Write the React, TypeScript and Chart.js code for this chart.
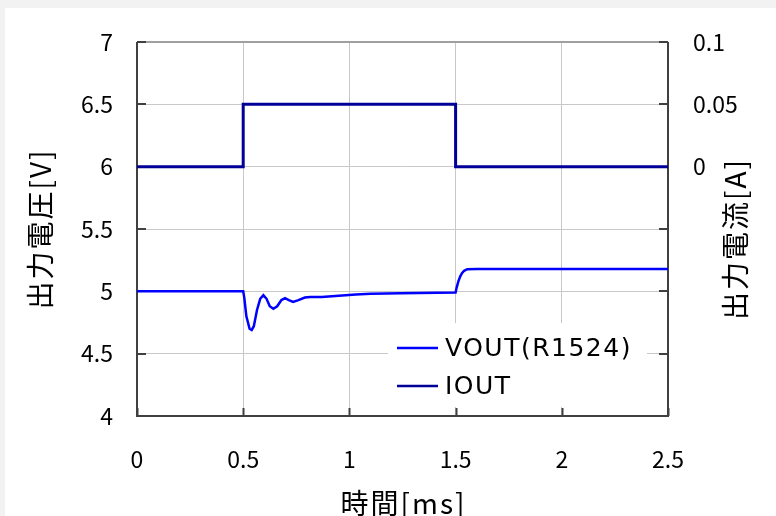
import React, { useEffect, useRef } from "react";
import { Chart, registerables } from "chart.js";

Chart.register(...registerables);

// ---- data ----
const timeV = [0, 0.5, 0.505, 0.515, 0.53, 0.54, 0.55, 0.565, 0.58, 0.595, 0.61, 0.625, 0.642, 0.66, 0.68, 0.697, 0.715, 0.735, 0.76, 0.79, 0.815, 0.87, 0.95, 1.03, 1.1, 1.24, 1.5, 1.505, 1.513, 1.522, 1.53, 1.54, 1.555, 1.6, 2.5];
const vout = [5.0, 5.0, 4.95, 4.8, 4.7, 4.69, 4.72, 4.85, 4.94, 4.97, 4.94, 4.88, 4.86, 4.88, 4.93, 4.945, 4.93, 4.915, 4.93, 4.95, 4.955, 4.955, 4.965, 4.975, 4.98, 4.985, 4.99, 5.03, 5.08, 5.12, 5.145, 5.165, 5.178, 5.18, 5.18];
const timeI = [0, 0.5, 0.5, 1.5, 1.5, 2.5];
const iout = [0, 0, 0.05, 0.05, 0, 0];

const xTicks = [0, 0.5, 1, 1.5, 2, 2.5];
const leftTicks = [4, 4.5, 5, 5.5, 6, 6.5, 7];
const rightTickValues = [-0.2, -0.15, -0.1, -0.05, 0, 0.05, 0.1];
const rightTickLabels = ["", "", "", "", "0", "0.05", "0.1"];

const seriesNames = ["VOUT(R1524)", "IOUT"];
const xTitle = "時間[ms]";
const leftTitle = "出力電圧[V]";
const rightTitle = "出力電流[A]";

const FONT = "'Noto Sans CJK JP', 'Noto Sans', sans-serif";

const framePlugin = {
  id: "frame",
  beforeDraw(chart: any) {
    const { ctx, width, height } = chart;
    ctx.save();
    ctx.fillStyle = "#f2f2f2";
    ctx.fillRect(0, 0, width, height);
    ctx.fillStyle = "#ffffff";
    ctx.fillRect(5, 8, width - 5, height - 8);
    ctx.restore();
  },
  beforeDatasetsDraw(chart: any) {
    const { ctx, chartArea: a, scales } = chart;
    ctx.save();
    ctx.strokeStyle = "#a0a0a0";
    ctx.lineWidth = 2;
    ctx.beginPath();
    ctx.moveTo(a.left, a.top);
    ctx.lineTo(a.right, a.top);
    ctx.stroke();
    ctx.strokeStyle = "#404040";
    ctx.lineWidth = 2;
    ctx.beginPath();
    ctx.moveTo(a.left, a.top);
    ctx.lineTo(a.left, a.bottom);
    ctx.lineTo(a.right, a.bottom);
    ctx.lineTo(a.right, a.top);
    ctx.stroke();
    ctx.beginPath();
    xTicks.forEach((v) => {
      const px = Math.round(scales.x.getPixelForValue(v)) + 0.5;
      ctx.moveTo(px, a.bottom);
      ctx.lineTo(px, a.bottom - 8);
    });
    leftTicks.forEach((v) => {
      const py = Math.round(scales.y.getPixelForValue(v));
      ctx.moveTo(a.left, py);
      ctx.lineTo(a.left + 9, py);
    });
    rightTickValues.forEach((v) => {
      const py = Math.round(scales.y1.getPixelForValue(v));
      ctx.moveTo(a.right, py);
      ctx.lineTo(a.right - 9, py);
    });
    ctx.stroke();
    ctx.restore();
  },
  afterDatasetsDraw(chart: any) {
    const { ctx, chartArea: a } = chart;
    ctx.save();
    // legend
    const bx = a.left + 251;
    const by = a.top + 281;
    ctx.fillStyle = "#ffffff";
    ctx.fillRect(bx, by, 259, 84);
    ctx.font = `25px 'DejaVu Sans', sans-serif`;
    (ctx as any).letterSpacing = "1.5px";
    ctx.textBaseline = "middle";
    ctx.textAlign = "left";
    chart.data.datasets.forEach((ds: any, i: number) => {
      const y = by + 25 + i * 38;
      ctx.strokeStyle = ds.borderColor;
      ctx.lineWidth = 2.5;
      ctx.beginPath();
      ctx.moveTo(bx + 9, y);
      ctx.lineTo(bx + 50, y);
      ctx.stroke();
      ctx.fillStyle = "#000";
      ctx.fillText(ds.label, bx + 57, y + 1);
    });
    // titles
    ctx.font = `28px ${FONT}`;
    (ctx as any).letterSpacing = "2px";
    ctx.textAlign = "center";
    ctx.textBaseline = "middle";
    ctx.fillStyle = "#000";
    ctx.fillText(xTitle, (a.left + a.right) / 2 + 1, 503);
    ctx.save();
    ctx.translate(40, 229);
    ctx.rotate(-Math.PI / 2);
    ctx.fillText(leftTitle, 0, 0);
    ctx.restore();
    ctx.save();
    ctx.translate(735, 239);
    ctx.rotate(-Math.PI / 2);
    ctx.fillText(rightTitle, 0, 0);
    ctx.restore();
    ctx.restore();
  },
};

export default function App() {
  const ref = useRef<HTMLCanvasElement | null>(null);
  useEffect(() => {
    if (!ref.current) return;
    const chart = new Chart(ref.current, {
      type: "line",
      data: {
        datasets: [
          {
            label: seriesNames[0],
            data: timeV.map((t, i) => ({ x: t, y: vout[i] })),
            borderColor: "#0000ff",
            borderWidth: 2.5,
            pointRadius: 0,
            tension: 0,
            yAxisID: "y",
          },
          {
            label: seriesNames[1],
            data: timeI.map((t, i) => ({ x: t, y: iout[i] })),
            borderColor: "#000099",
            borderWidth: 3,
            pointRadius: 0,
            tension: 0,
            yAxisID: "y1",
          },
        ],
      },
      options: {
        responsive: false,
        animation: false,
        layout: { padding: { top: 42, left: 0, right: 0, bottom: 0 } },
        plugins: { legend: { display: false }, tooltip: { enabled: false } },
        scales: {
          x: {
            type: "linear",
            min: 0,
            max: 2.5,
            afterBuildTicks: (s: any) => {
              s.ticks = xTicks.map((v) => ({ value: v }));
            },
            afterFit: (s: any) => {
              s.height = 100;
            },
            ticks: {
              color: "#000",
              font: { family: FONT, size: 23 },
              padding: 29,
              maxRotation: 0,
              callback: (v: any) => String(v),
            },
            grid: { color: "#c8c8c8", lineWidth: 1, drawTicks: false },
            border: { display: false },
          },
          y: {
            type: "linear",
            position: "left",
            min: 4,
            max: 7,
            afterBuildTicks: (s: any) => {
              s.ticks = leftTicks.map((v) => ({ value: v }));
            },
            afterFit: (s: any) => {
              s.width = 137;
            },
            ticks: {
              color: "#000",
              font: { family: FONT, size: 23 },
              padding: 24,
              callback: (v: any) => String(v),
            },
            grid: { color: "#c8c8c8", lineWidth: 1, drawTicks: false },
            border: { display: false },
          },
          y1: {
            type: "linear",
            position: "right",
            min: -0.2,
            max: 0.1,
            afterBuildTicks: (s: any) => {
              s.ticks = rightTickValues.map((v) => ({ value: v }));
            },
            afterFit: (s: any) => {
              s.width = 108;
            },
            ticks: {
              color: "#000",
              font: { family: FONT, size: 23 },
              padding: 25,
              callback: (_v: any, i: number) => rightTickLabels[i],
            },
            grid: { display: false, drawTicks: false },
            border: { display: false },
          },
        },
      },
      plugins: [framePlugin],
    } as any);
    return () => chart.destroy();
  }, []);
  return (
    <div style={{ position: "fixed", left: 0, top: 0, width: 776, height: 516 }}>
      <canvas ref={ref} width={776} height={516} style={{ display: "block" }} />
    </div>
  );
}
